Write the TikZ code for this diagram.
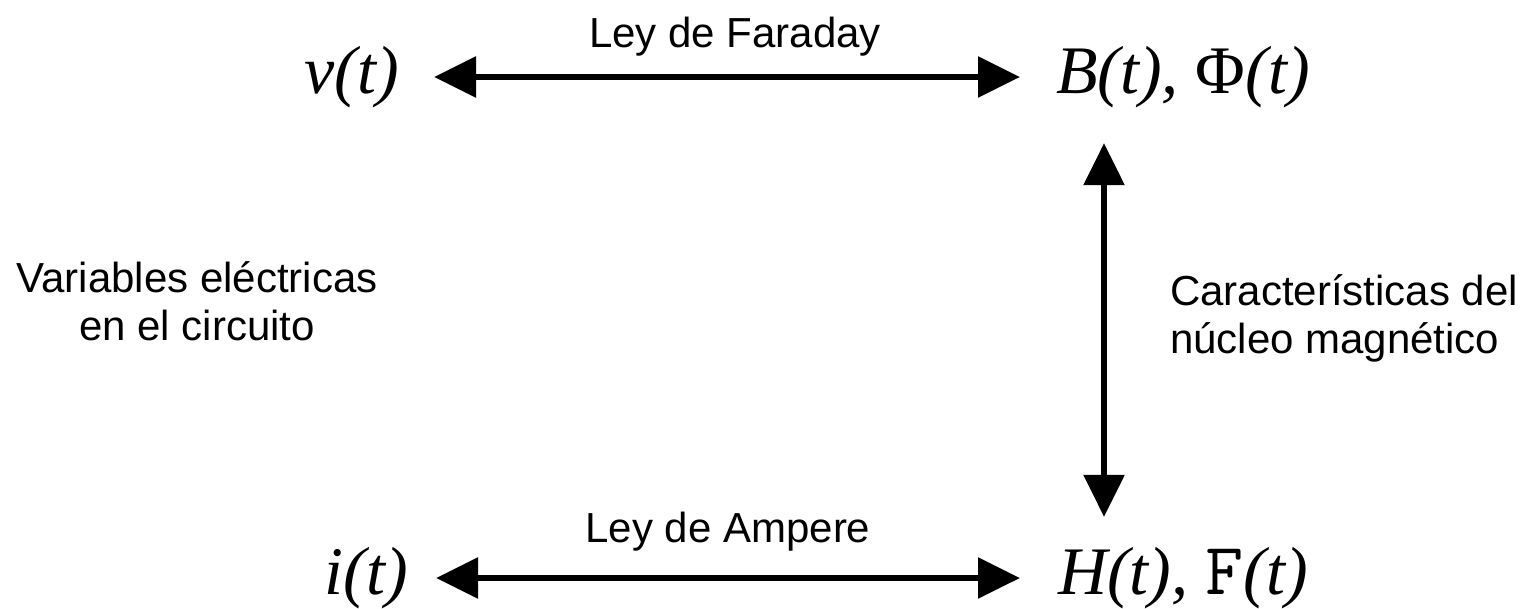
\documentclass[tikz,border=0pt]{standalone}
\usepackage{fontspec}
\setmainfont{Liberation Serif}
\newfontfamily\labfont{Liberation Sans}
\usetikzlibrary{arrows.meta}
\begin{document}
\begin{tikzpicture}[x=1pt,y=-1pt,
  qty/.style={inner sep=0pt, text height=47pt, text depth=15pt,
    font=\fontsize{68}{74}\selectfont},
  lab/.style={inner sep=0pt, font=\labfont\fontsize{42}{48}\selectfont},
  link/.style={line width=6pt, {Triangle[length=42pt,width=40pt]}-{Triangle[length=42pt,width=40pt]}}]
\useasboundingbox (0,0) rectangle (1532,608);

% quantities
\node[qty, anchor=base east] (v) at (399,93) {\textit{v(t)}};
\node[qty, anchor=base west] (B) at (1056,93) {\textit{B(t),} Φ\textit{(t)}};
\node[qty, anchor=base east] (i) at (408,594) {\textit{i(t)}};
\node[qty, anchor=base west] (H) at (1058,594) {\textit{H(t),} {\ttfamily\fontsize{74}{74}\selectfont F}\textit{(t)}};

% relations
\draw[link, shorten <=35pt, shorten >=36pt] (v.east) -- (B.west);
\draw[link, shorten <=28pt, shorten >=38pt] (i.east) -- (H.west);
\draw[link, shorten <=35pt, shorten >=30pt]
  ([xshift=48pt]B.south west) -- ([xshift=46pt]H.north west);

% labels (base anchor sits on the last line)
\node[lab, anchor=base] (far) at (735,47) {Ley de Faraday};
\node[lab, anchor=base] (amp) at (728,542) {Ley de Ampere};
\node[lab, anchor=base, align=center] (elec) at (197,340) {Variables eléctricas\\en el circuito};
\node[lab, anchor=base west, align=left] (core) at (1170,353) {Características del\\núcleo magnético};
\end{tikzpicture}
\end{document}
